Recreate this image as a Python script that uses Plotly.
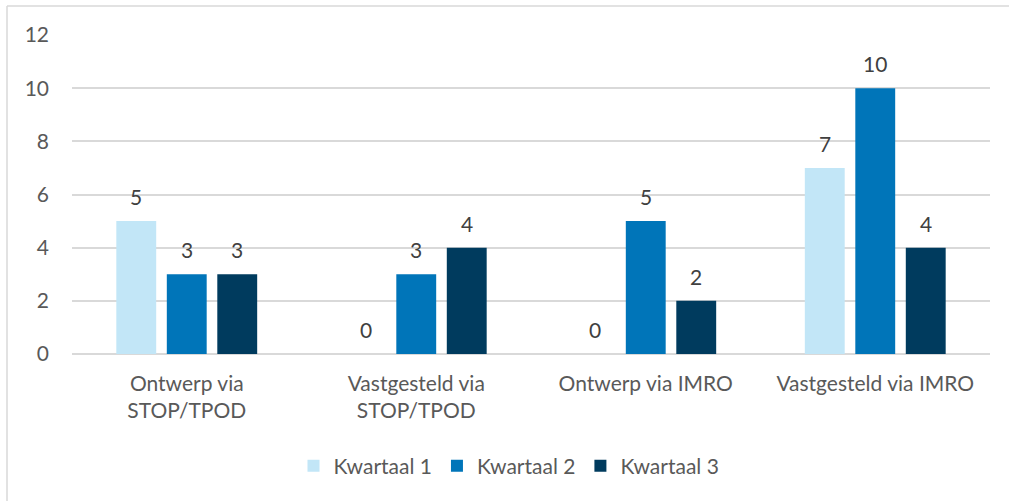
import plotly.graph_objects as go

categories = ["Ontwerp via<br>STOP/TPOD", "Vastgesteld via<br>STOP/TPOD", "Ontwerp via IMRO", "Vastgesteld via IMRO"]
series_names = ["Kwartaal 1", "Kwartaal 2", "Kwartaal 3"]
kwartaal1 = [5, 0, 0, 7]
kwartaal2 = [3, 3, 5, 10]
kwartaal3 = [3, 4, 2, 4]
colors = ["#C2E6F7", "#0075B9", "#003B5E"]
y_ticks = [0, 2, 4, 6, 8, 10, 12]

W, H = 1009, 501
L, R, T, B = 72, 19, 35, 147
font_family = "Lato, 'Open Sans', sans-serif"
FS = 21
BARGAP = 0.34
GROUPGAP = 0.21

fig = go.Figure()
all_series = [kwartaal1, kwartaal2, kwartaal3]
for name, vals, col in zip(series_names, all_series, colors):
    fig.add_trace(go.Bar(
        x=categories, y=vals, name=name, marker=dict(color=col, line=dict(width=0)),
    ))

# data labels as annotations, placed on each bar's centre
slot = (1 - BARGAP) / len(all_series)
annotations = []
for j, vals in enumerate(all_series):
    off = (j - (len(all_series) - 1) / 2) * slot
    for i, v in enumerate(vals):
        annotations.append(dict(
            x=i + off, y=v, xref="x", yref="y", text=str(v), showarrow=False,
            yanchor="bottom", yshift=10, font=dict(size=FS, color="#404040", family=font_family),
        ))

pw, ph = W - L - R, H - T - B
def px_x(x):
    return (x - L) / pw
def px_y(y):
    return 1 - (y - T) / ph

fig.update_layout(
    width=W, height=H,
    margin=dict(l=L, r=R, t=T, b=B, autoexpand=False),
    paper_bgcolor="white", plot_bgcolor="white",
    barmode="group", bargap=BARGAP, bargroupgap=GROUPGAP,
    font=dict(family=font_family, size=FS, color="#595959"),
    showlegend=True,
    legend=dict(orientation="h", x=px_x(509), xanchor="center", y=px_y(466), yanchor="middle",
                font=dict(size=FS, color="#595959"), itemwidth=30, traceorder="normal"),
    xaxis=dict(showgrid=False, showline=False, ticks="", ticklabelstandoff=15,
               tickfont=dict(size=FS, color="#595959")),
    yaxis=dict(range=[0, 12], tickvals=y_ticks, showgrid=True, gridcolor="#D9D9D9", gridwidth=1.5,
               zeroline=True, zerolinecolor="#D9D9D9", zerolinewidth=1.5, showline=False,
               ticks="", ticklabelstandoff=22, tickfont=dict(size=FS, color="#595959")),
    annotations=annotations,
    shapes=[
        dict(type="line", xref="paper", yref="paper", x0=px_x(7), x1=px_x(7), y0=px_y(6), y1=px_y(501),
             line=dict(color="#D9D9D9", width=1.5)),
        dict(type="line", xref="paper", yref="paper", x0=px_x(7), x1=px_x(1009), y0=px_y(6), y1=px_y(6),
             line=dict(color="#D9D9D9", width=1.5)),
    ],
)

fig.write_html("out.html", config={"displayModeBar": False},
               post_script="document.body.style.margin='0';document.body.style.overflow='hidden';")
